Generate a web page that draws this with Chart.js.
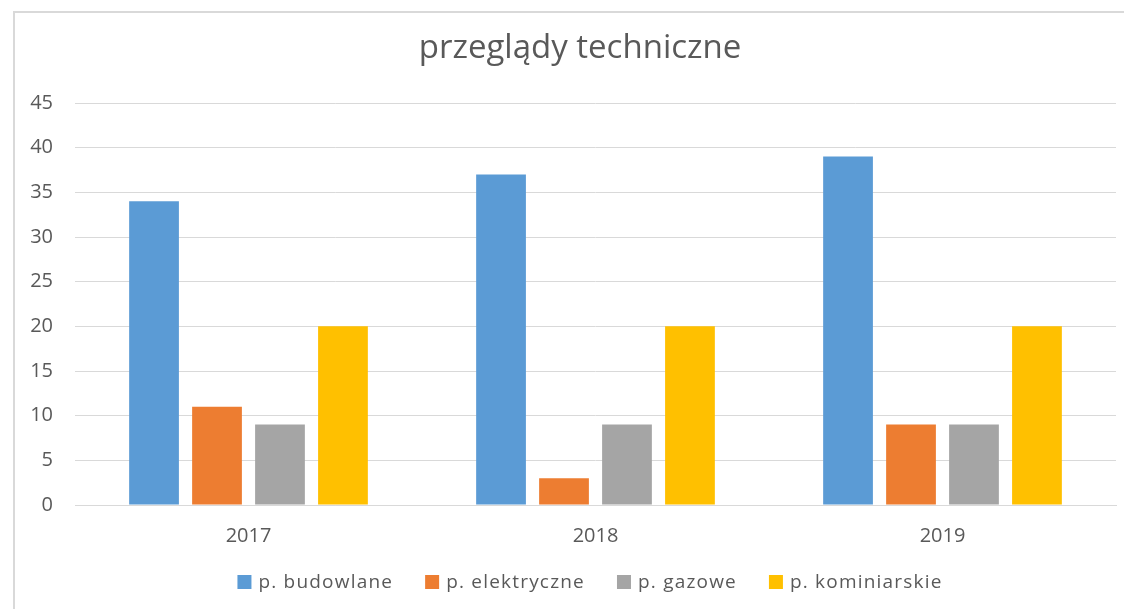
<!DOCTYPE html>
<html>
<head>
<meta charset="utf-8">
<script src="https://cdn.jsdelivr.net/npm/chart.js@4/dist/chart.umd.min.js"></script>
<style>
  html, body { margin: 0; padding: 0; background: #fff; overflow: hidden; }
  #frame { position: absolute; left: 13px; top: 11px; width: 1120px; height: 610px;
           border-left: 2px solid #d9d9d9; border-top: 2px solid #d9d9d9; }
  #c { position: absolute; left: 0; top: 0; }
</style>
</head>
<body>
<div id="frame"></div>
<canvas id="c" width="1124" height="609"></canvas>
<script>
const categories = ['2017', '2018', '2019'];
const seriesNames = ['p. budowlane', 'p. elektryczne', 'p. gazowe', 'p. kominiarskie'];
const budowlane = [34, 37, 39];
const elektryczne = [11, 3, 9];
const gazowe = [9, 9, 9];
const kominiarskie = [20, 20, 20];
const yTicks = [0, 5, 10, 15, 20, 25, 30, 35, 40, 45];
const chartTitle = 'przeglądy techniczne';

const colors = ['#5B9BD5', '#ED7D31', '#A5A5A5', '#FFC000'];
const values = [budowlane, elektryczne, gazowe, kominiarskie];
const FONT = '"Open Sans", "Noto Sans", sans-serif';
const TEXT = '#595959';

// Title and bottom legend, drawn by hand so the legend labels can use letter spacing.
const headerAndLegend = {
  id: 'headerAndLegend',
  afterDraw(chart, args, opts) {
    const ctx = chart.ctx;
    ctx.save();
    ctx.fillStyle = TEXT;
    ctx.font = `${opts.titleSize}px ${FONT}`;
    ctx.textAlign = 'center';
    ctx.textBaseline = 'middle';
    ctx.fillText(opts.title, opts.titleX, opts.titleY);

    ctx.font = `${opts.fontSize}px ${FONT}`;
    ctx.letterSpacing = opts.letterSpacing + 'px';
    ctx.textAlign = 'left';
    const items = chart.data.datasets.map(ds => ({
      text: ds.label,
      color: ds.backgroundColor,
      w: ctx.measureText(ds.label).width
    }));
    const total = items.reduce((s, it) => s + opts.box + opts.boxGap + it.w, 0)
      + opts.itemGap * (items.length - 1);
    let x = opts.centerX - total / 2;
    const y = opts.centerY;
    items.forEach(it => {
      ctx.fillStyle = it.color;
      ctx.fillRect(x, y - opts.box / 2, opts.box, opts.box);
      x += opts.box + opts.boxGap;
      ctx.fillStyle = TEXT;
      ctx.fillText(it.text, x, y + 1);
      x += it.w + opts.itemGap;
    });
    ctx.restore();
  }
};

new Chart(document.getElementById('c'), {
  type: 'bar',
  data: {
    labels: categories,
    datasets: seriesNames.map((name, i) => ({
      label: name,
      data: values[i],
      backgroundColor: colors[i],
      borderWidth: 0,
      barPercentage: 0.79,
      categoryPercentage: 0.726
    }))
  },
  plugins: [headerAndLegend],
  options: {
    responsive: false,
    animation: false,
    devicePixelRatio: 1,
    layout: { padding: { left: 20, right: 8, top: 103, bottom: 50 } },
    plugins: {
      title: { display: false },
      legend: { display: false },
      headerAndLegend: {
        title: chartTitle, titleSize: 33, titleX: 580, titleY: 49,
        fontSize: 19, letterSpacing: 1.2, box: 14, boxGap: 7, itemGap: 32,
        centerX: 590, centerY: 582
      },
      tooltip: { enabled: false }
    },
    scales: {
      x: {
        grid: { display: false },
        border: { display: true, color: '#d9d9d9', width: 1 },
        ticks: { color: TEXT, font: { family: FONT, size: 20 }, padding: 11 }
      },
      y: {
        min: 0,
        max: 45,
        afterBuildTicks: (axis) => { axis.ticks = yTicks.map(v => ({ value: v })); },
        afterFit: (axis) => { axis.width = 55; },
        grid: { color: '#d9d9d9', lineWidth: 1, drawTicks: false },
        border: { display: false },
        ticks: { color: TEXT, font: { family: FONT, size: 20 }, padding: 22 }
      }
    }
  }
});
</script>
</body>
</html>
